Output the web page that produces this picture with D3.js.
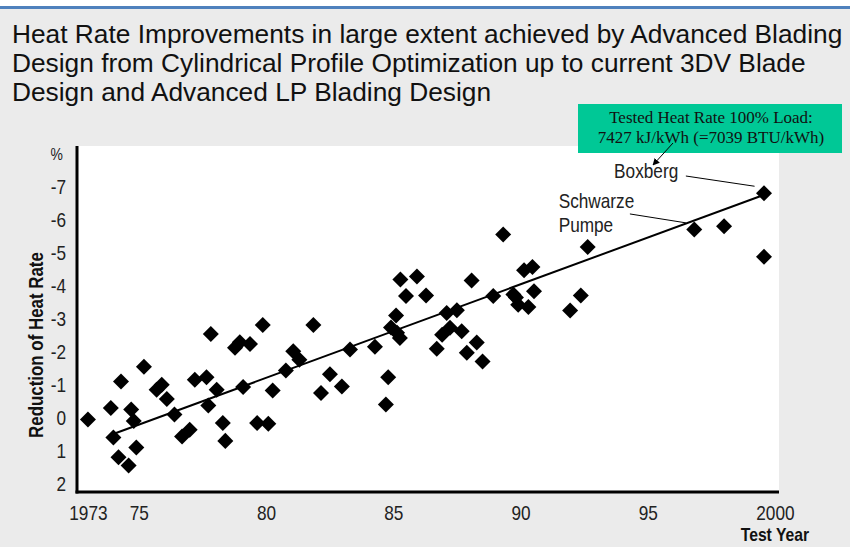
<!DOCTYPE html>
<html><head><meta charset="utf-8">
<script src="https://cdn.jsdelivr.net/npm/d3@7"></script>
<style>html,body{margin:0;padding:0;background:#fff;}svg{display:block;}</style>
</head><body>
<svg id="c" width="850" height="547"></svg>
<script>
// ---- data ----
const titleLines = [
  "Heat Rate Improvements in large extent achieved by Advanced Blading",
  "Design from Cylindrical Profile Optimization up to current 3DV Blade",
  "Design and Advanced LP Blading Design"
];
const years = [1973.0,1973.9,1974.3,1974.0,1974.2,1974.6,1974.7,1974.8,1974.9,1975.2,
  1975.7,1975.9,1976.1,1976.4,1976.7,1977.0,1977.2,1977.66,1977.73,1977.83,
  1978.06,1978.3,1978.4,1978.78,1978.97,1979.37,1979.1,1979.65,1979.87,1980.09,
  1980.26,1980.78,1981.07,1981.31,1981.86,1982.16,1982.51,1982.98,1983.3,1984.28,
  1984.8,1984.71,1985.28,1985.93,1985.5,1986.29,1985.11,1984.91,1985.15,1985.26,
  1987.1,1987.5,1986.92,1987.23,1987.69,1986.71,1987.89,1988.28,1988.51,1988.08,
  1988.93,1989.32,1990.14,1990.47,1989.72,1989.82,1989.91,1990.31,1990.53,1991.95,
  1992.37,1992.64,1996.83,1998.0,1999.57,1999.57];
const values = [0.05,-0.3,-1.1,0.6,1.2,1.45,-0.25,0.1,0.9,-1.55,
  -0.85,-1.0,-0.57,-0.1,0.57,0.36,-1.15,-1.23,-0.37,-2.54,
  -0.85,0.16,0.7,-2.12,-2.29,-2.24,-0.93,0.16,-2.81,0.18,
  -0.83,-1.43,-2.02,-1.76,-2.81,-0.75,-1.32,-0.95,-2.07,-2.15,
  -1.23,-0.4,-4.19,-4.28,-3.69,-3.71,-3.1,-2.74,-2.58,-2.42,
  -3.18,-3.26,-2.52,-2.73,-2.62,-2.09,-1.97,-2.28,-1.71,-4.16,
  -3.69,-5.56,-4.47,-4.57,-3.74,-3.65,-3.43,-3.36,-3.84,-3.25,
  -3.71,-5.18,-5.71,-5.81,-6.81,-4.88];
const trendYears = [1973.97, 1999.5];
const trendValues = [0.5, -6.74];
const xTickValues = [1973, 1975, 1980, 1985, 1990, 1995, 2000];
const xTickLabels = ["1973", "75", "80", "85", "90", "95", "2000"];
const yTickValues = [-8, -7, -6, -5, -4, -3, -2, -1, 0, 1, 2];
const yTickLabels = ["%", "-7", "-6", "-5", "-4", "-3", "-2", "-1", "0", "1", "2"];
const yAxisTitle = "Reduction of Heat Rate";
const xAxisTitle = "Test Year";
const boxLines = ["Tested Heat Rate 100% Load:", "7427 kJ/kWh (=7039 BTU/kWh)"];
// annotations in data units
const annotations = [
  {lines:["Boxberg"], year:1993.68, value:-7.26, from:[1996.5,-7.33], to:[1999.2,-7.02]},
  {lines:["Schwarze","Pumpe"], year:1991.5, value:-6.35, from:[1994.3,-6.18], to:[1996.5,-5.91]}
];

// ---- layout ----
const svg = d3.select("#c");
const W = 850, H = 547;
const L = 77, R = 779, T = 146, B = 492;
const NARROW = 0.82;
const SANS = "Liberation Sans, Arial, sans-serif";
const x = d3.scaleLinear().domain([1972.57, 2000.16]).range([L, R]);
const y = d3.scaleLinear().domain([-8.24, 2.25]).range([T, B]);

svg.append("rect").attr("width", W).attr("height", H).attr("fill", "#ebebeb");
svg.append("rect").attr("width", W).attr("height", 6).attr("fill", "#ffffff");
svg.append("rect").attr("y", 6).attr("width", W).attr("height", 3).attr("fill", "#4f81bd");

// title
svg.append("g").selectAll("text").data(titleLines).join("text")
  .attr("x", 12).attr("y", (d, i) => 43 + i * 29)
  .attr("font-family", SANS)
  .attr("font-size", 26.3).attr("fill", "#111").text(d => d);

// plot area
svg.append("rect").attr("x", L).attr("y", T).attr("width", R - L).attr("height", B - T).attr("fill", "#fff");

// axes
const xAxis = d3.axisBottom(x).tickValues(xTickValues).tickSize(0).tickPadding(13)
  .tickFormat((d, i) => xTickLabels[i]);
const gx = svg.append("g").attr("transform", `translate(0,${B})`).call(xAxis);
gx.select(".domain").attr("stroke", "#000").attr("stroke-width", 3).attr("d", `M${L - 1.5},0H${R}`);
gx.selectAll("text").attr("font-family", SANS).attr("font-size", 21).attr("fill", "#222")
  .attr("transform", `scale(${NARROW},1)`);

const yAxis = d3.axisLeft(y).tickValues(yTickValues).tickSize(0).tickPadding(10)
  .tickFormat((d, i) => yTickLabels[i]);
const gy = svg.append("g").attr("transform", `translate(${L},0)`).call(yAxis);
gy.select(".domain").attr("stroke", "#000").attr("stroke-width", 3).attr("d", `M0,${T}V${B + 1.5}`);
gy.selectAll("text").attr("font-family", SANS).attr("font-size", 21).attr("fill", "#222")
  .attr("x", -11 / NARROW).attr("transform", `scale(${NARROW},1)`);
gy.selectAll(".tick").filter(d => d === -8).select("text").attr("font-size", 17).attr("x", -14 / NARROW);

// axis titles
svg.append("text").attr("transform", `translate(43,345) rotate(-90) scale(0.845,1)`)
  .attr("text-anchor", "middle").attr("font-family", SANS)
  .attr("font-weight", "bold").attr("font-size", 20).attr("fill", "#111").text(yAxisTitle);
svg.append("text").attr("transform", `translate(${x(2000)},541) scale(0.85,1)`).attr("text-anchor", "middle")
  .attr("font-family", SANS).attr("font-weight", "bold")
  .attr("font-size", 18.5).attr("fill", "#111").text(xAxisTitle);

// trend line
const trend = trendYears.map((d, i) => [d, trendValues[i]]);
svg.append("path").datum(trend)
  .attr("d", d3.line().x(d => x(d[0])).y(d => y(d[1])))
  .attr("stroke", "#000").attr("stroke-width", 2).attr("fill", "none");

// points
const pts = years.map((d, i) => ({year: d, value: values[i]}));
const sym = d3.symbol().type(d3.symbolSquare).size(128);
svg.append("g").selectAll("path").data(pts).join("path")
  .attr("d", sym)
  .attr("transform", d => `translate(${x(d.year)},${y(d.value)}) rotate(45)`)
  .attr("fill", "#000");

// annotations
annotations.forEach(a => {
  svg.append("g").selectAll("text").data(a.lines).join("text")
    .attr("transform", (d, i) => `translate(${x(a.year)},${y(a.value) + i * 24}) scale(${NARROW},1)`)
    .attr("font-family", SANS).attr("font-size", 21)
    .attr("fill", "#222").text(d => d);
  svg.append("line").attr("x1", x(a.from[0])).attr("y1", y(a.from[1]))
    .attr("x2", x(a.to[0])).attr("y2", y(a.to[1])).attr("stroke", "#000").attr("stroke-width", 1);
});

// green box
svg.append("rect").attr("x", 578).attr("y", 104).attr("width", 264).attr("height", 49).attr("fill", "#00c896");
svg.append("g").selectAll("text").data(boxLines).join("text")
  .attr("x", 711).attr("y", (d, i) => 123 + i * 20).attr("text-anchor", "middle")
  .attr("font-family", "Liberation Serif, Times New Roman, serif").attr("font-size", 17)
  .attr("fill", "#111").text(d => d);
// arrow
svg.append("defs").append("marker").attr("id", "ah").attr("viewBox", "0 0 10 10")
  .attr("refX", 9).attr("refY", 5).attr("markerWidth", 7).attr("markerHeight", 7)
  .attr("orient", "auto").append("path").attr("d", "M0,0L10,5L0,10z").attr("fill", "#000");
svg.append("line").attr("x1", 673).attr("y1", 143).attr("x2", 653).attr("y2", 165)
  .attr("stroke", "#000").attr("stroke-width", 1).attr("marker-end", "url(#ah)");
</script>
</body></html>
